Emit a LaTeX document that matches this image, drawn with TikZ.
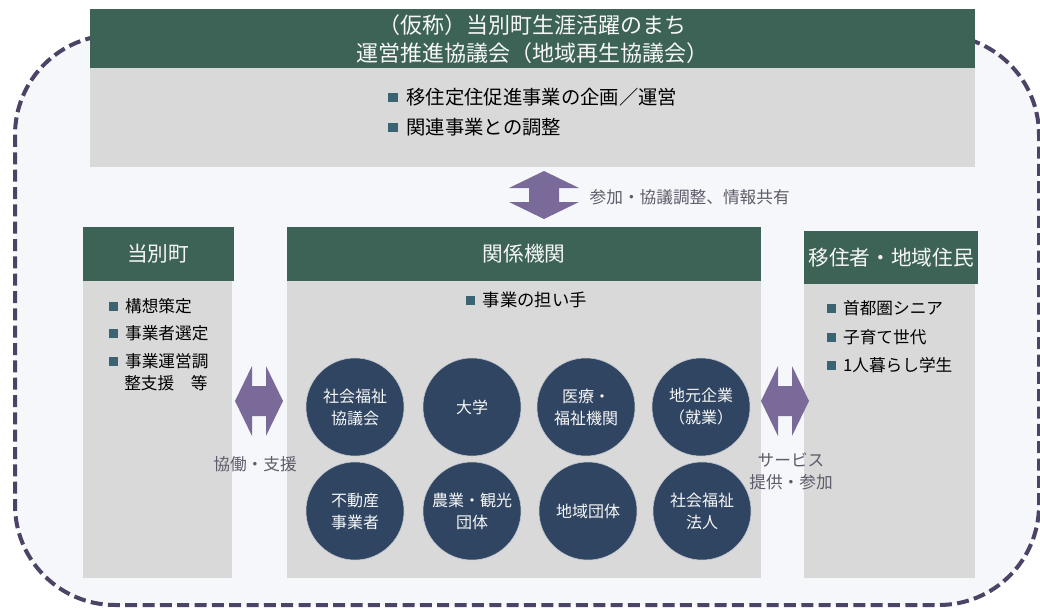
\documentclass[tikz,border=0pt]{standalone}
\usepackage{fontspec}
\setmainfont{Noto Sans CJK JP}
\definecolor{vihrea}{HTML}{3D6357}
\definecolor{harmaa}{HTML}{D9D9D9}
\definecolor{tausta}{HTML}{F6F7FA}
\definecolor{reuna}{HTML}{4B4466}
\definecolor{violetti}{HTML}{7A6A99}
\definecolor{sininen}{HTML}{2F4562}
\definecolor{nelio}{HTML}{3A6474}
\definecolor{harmaateksti}{HTML}{5E5C6A}
\newcommand{\pallura}{\textcolor{nelio}{\rule[0.1em]{0.5em}{0.5em}}\hspace{0.45em}}
\tikzset{
  otsikko/.style={text=white!94!gray, font=\fontsize{15.5}{18}\selectfont},
  luettelo/.style={anchor=west, inner sep=0pt, font=\fontsize{12.5}{15}\selectfont},
  ympyra/.style={circle, fill=sininen, draw=white!70!sininen, line width=0.4pt, minimum size=73.5pt, inner sep=0pt,
    text=white!94!gray, align=center, font=\fontsize{12}{16.5}\selectfont},
  selite/.style={text=harmaateksti, font=\fontsize{12.5}{16.5}\selectfont},
  tuplanuoli/.pic={\fill[violetti] (-24,0) -- (-7,-35) -- (-7,-15) -- (7,-15) -- (7,-35) -- (24,0)
    -- (7,35) -- (7,15) -- (-7,15) -- (-7,35) -- cycle;}
}

\begin{document}
\begin{tikzpicture}[x=0.75pt,y=-0.75pt]
				\useasboundingbox (0,0) rectangle (1040,610);
				\fill[white] (0,0) rectangle (1040,610);
				\draw[reuna, fill=tausta, line width=3pt, dash pattern=on 9pt off 4pt, rounded corners=75pt] (15,35) rectangle (1039,605);
				% neuvosto
				\fill[vihrea] (90,9) rectangle (975,68);
				\fill[harmaa] (90,68) rectangle (975,167);
				\node[otsikko, align=center, font=\fontsize{16.5}{20.5}\selectfont] (neuvosto) at (532,39) {（仮称）当別町生涯活躍のまち\\運営推進協議会（地域再生協議会）};
				\node[luettelo, font=\fontsize{14.5}{17}\selectfont] (suunnittelu) at (388,97) {\pallura 移住定住促進事業の企画／運営};
				\node[luettelo, font=\fontsize{14.5}{17}\selectfont] (yhteensovitus) at (388,127) {\pallura 関連事業との調整};
				\pic[rotate=90] at (544,195) {tuplanuoli};
				\node[selite, anchor=west] (jakoteksti) at (585,197) {参加・協議調整、情報共有};
				% kunta
				\fill[vihrea] (83,227) rectangle (234,281);
				\fill[harmaa] (83,281) rectangle (232,578);
				\node[otsikko] (kunta) at (158,254) {当別町};
				\node[luettelo] (kunta1) at (109,306) {\pallura 構想策定};
				\node[luettelo] (kunta2) at (109,333) {\pallura 事業者選定};
				\node[luettelo] (kunta3) at (109,361) {\pallura 事業運営調};
				\node[luettelo] (kunta3b) at (124,383) {整支援　等};
				\pic at (259,401) {tuplanuoli};
				% elimet
				\fill[vihrea] (287,227) rectangle (761,281);
				\fill[harmaa] (287,281) rectangle (761,578);
				\node[otsikko] (elimet) at (524,254) {関係機関};
				\node[luettelo, font=\fontsize{13}{15}\selectfont] (toimijat) at (466,300) {\pallura 事業の担い手};
				\node[ympyra] (sosneuvosto) at (355,407) {社会福祉\\協議会};
				\node[ympyra] (yliopisto) at (472,407) {大学};
				\node[ympyra] (terveys) at (586,407) {医療・\\福祉機関};
				\node[ympyra] (yritys) at (701,407) {地元企業\\（就業）};
				\node[ympyra] (kiinteisto) at (355,511) {不動産\\事業者};
				\node[ympyra] (maatalous) at (472,511) {農業・観光\\団体};
				\node[ympyra] (yhteiso) at (588,511) {地域団体};
				\node[ympyra] (sossaatio) at (702,511) {社会福祉\\法人};
				\node[selite] (tukiteksti) at (255,464) {協働・支援};
				% asukkaat
				\fill[vihrea] (804,231) rectangle (978,284);
				\fill[harmaa] (804,284) rectangle (975,578);
				\node[otsikko] (asukkaat) at (891,258) {移住者・地域住民};
				\node[luettelo] (asukas1) at (827,308) {\pallura 首都圏シニア};
				\node[luettelo] (asukas2) at (827,337) {\pallura 子育て世代};
				\node[luettelo] (asukas3) at (827,365) {\pallura 1人暮らし学生};
				\pic at (785,401) {tuplanuoli};
				\node[selite, align=center] (palveluteksti) at (791,471) {サービス\\提供・参加};
			\end{tikzpicture}
\end{document}
